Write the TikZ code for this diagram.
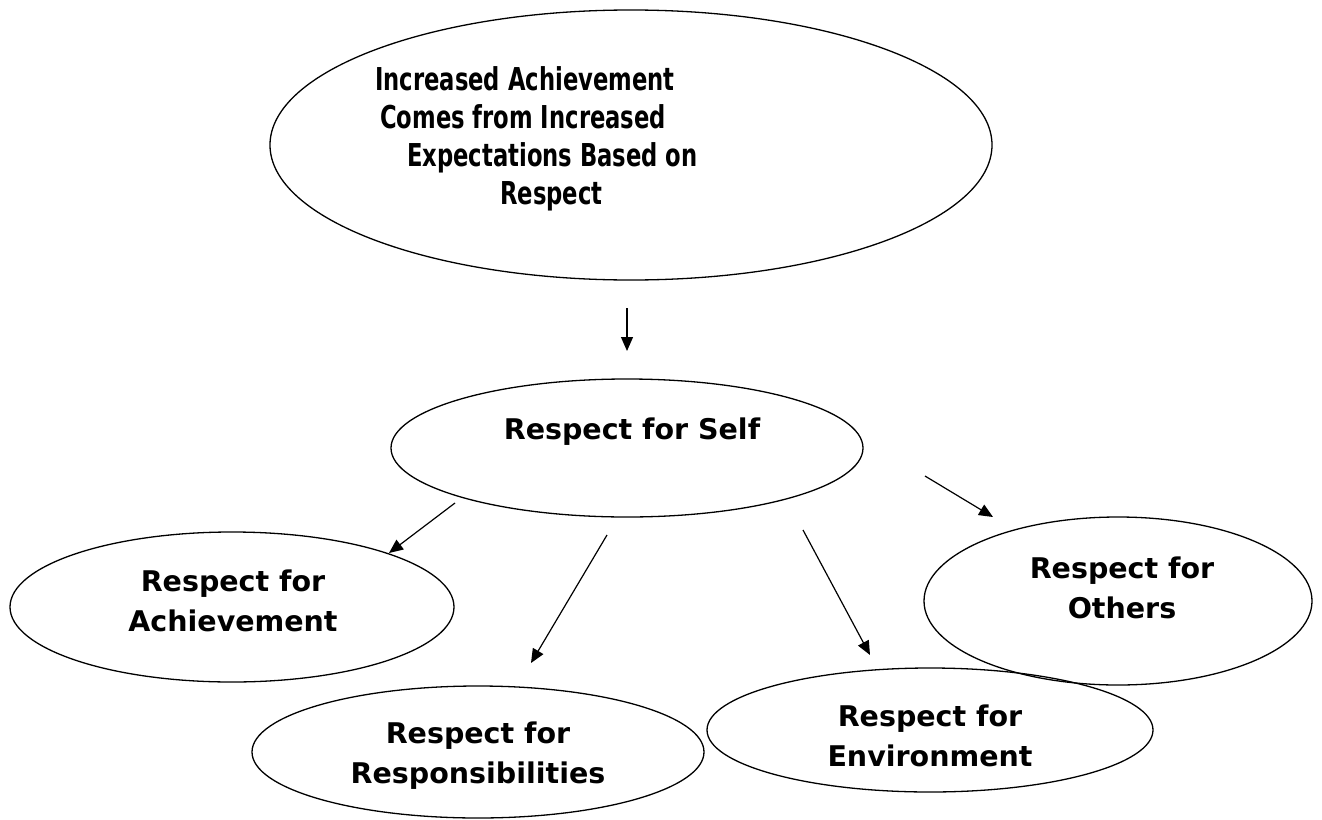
\documentclass[tikz,border=0pt]{standalone}
\usepackage{fontspec}
\setmainfont{DejaVu Sans}
\newfontfamily\headfont[FakeStretch=0.72]{DejaVu Sans Bold}
\usetikzlibrary{shapes.geometric,arrows.meta}

\tikzset{
  bubble/.style={draw, ellipse, line width=1.3pt, inner sep=0pt},
  lbl/.style={font=\fontsize{28.5}{40}\selectfont\bfseries, align=center, inner sep=0pt},
  link/.style={line width=1.2pt, -{Triangle[length=14pt,width=12pt]}}
}

\begin{document}
\begin{tikzpicture}[x=1pt,y=1pt,yscale=-1]
\useasboundingbox (0,0) rectangle (1322,819);

% Ellipses
\node [bubble, minimum width=722, minimum height=270] (goal) at (631,145) {};
\node [bubble, minimum width=472, minimum height=138] (self) at (627,448) {};
\node [bubble, minimum width=444, minimum height=150] (achieve) at (232,607) {};
\node [bubble, minimum width=388, minimum height=168] (others) at (1118,601) {};
\node [bubble, minimum width=452, minimum height=132] (resp) at (478,752) {};
\node [bubble, minimum width=446, minimum height=124] (env) at (930,730) {};

% Text Nodes
\node [anchor=north west, inner sep=0pt, align=left, font=\headfont\fontsize{31.5}{38}\selectfont] (goaltxt) at (375,66)
  {Increased Achievement\\\hspace*{5pt}Comes from Increased\\\hspace*{32pt}Expectations Based on\\\hspace*{125pt}Respect};
\node [lbl] (selftxt) at (632,432) {Respect for Self};
\node [lbl] (achievetxt) at (233,601) {Respect for\\Achievement};
\node [lbl] (otherstxt) at (1122,588) {Respect for\\Others};
\node [lbl] (resptxt) at (478,756) {Respect for\\Responsibilities};
\node [lbl] (envtxt) at (930,736) {Respect for\\Environment};

% Arrow ends
\coordinate (g1) at (627,308);
\coordinate (g2) at (627,351);
\coordinate (a1) at (455,503);
\coordinate (a2) at (389,553);
\coordinate (r1) at (607,535);
\coordinate (r2) at (531,663);
\coordinate (e1) at (803,530);
\coordinate (e2) at (870,655);
\coordinate (o1) at (925,476);
\coordinate (o2) at (993,517);

% Connectors
\draw [link] (g1) -- (g2);
\draw [link] (a1) -- (a2);
\draw [link] (r1) -- (r2);
\draw [link] (e1) -- (e2);
\draw [link] (o1) -- (o2);

\end{tikzpicture}
\end{document}
